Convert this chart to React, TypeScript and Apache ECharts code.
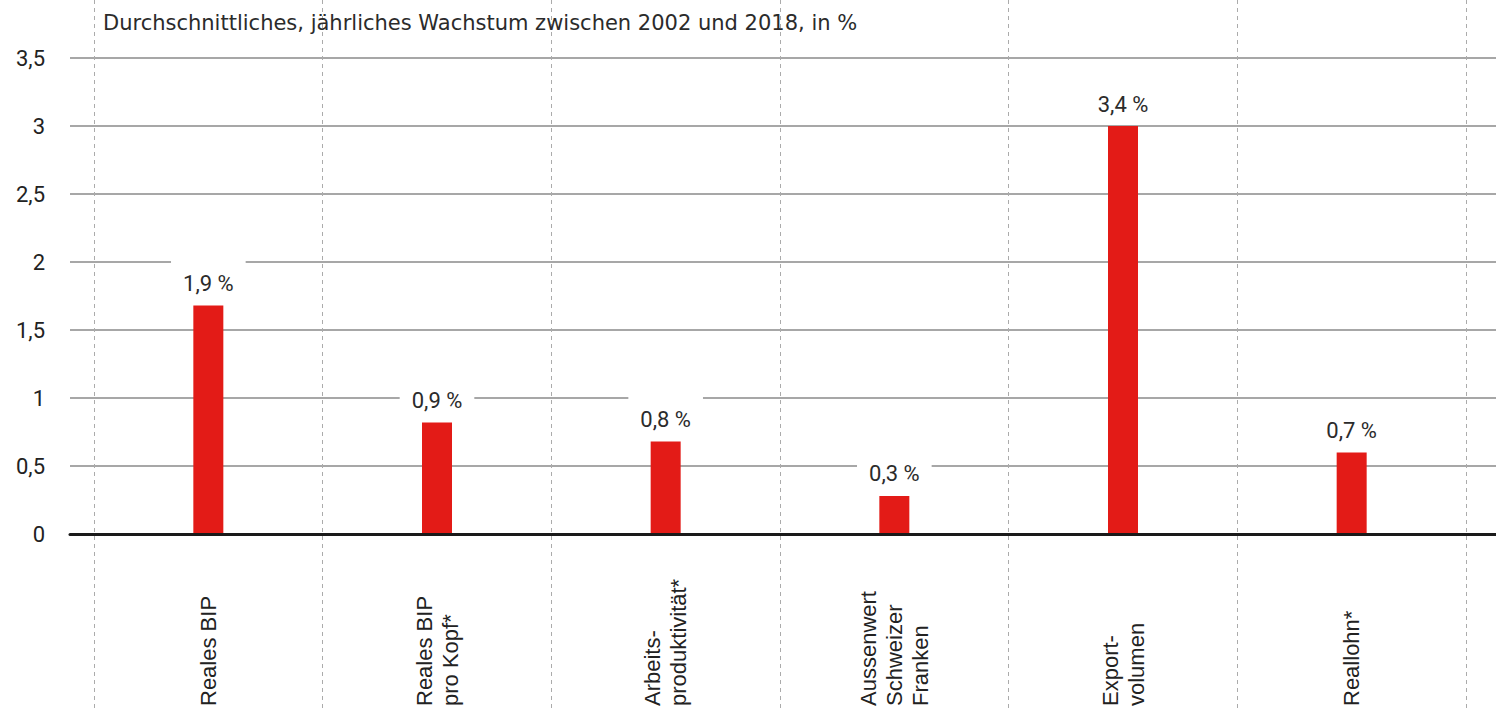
import React, { useEffect, useRef } from "react";
import * as echarts from "echarts";

const titleText = "Durchschnittliches, jährliches Wachstum zwischen 2002 und 2018, in %";
const categories = [
  "Reales BIP",
  "Reales BIP\npro Kopf*",
  "Arbeits-\nproduktivität*",
  "Aussenwert\nSchweizer\nFranken",
  "Export-\nvolumen",
  "Reallohn*",
];
const barValues = [1.68, 0.82, 0.68, 0.28, 3.0, 0.6];
const barLabels = ["1,9 %", "0,9 %", "0,8 %", "0,3 %", "3,4 %", "0,7 %"];
const yTickLabels = ["0", "0,5", "1", "1,5", "2", "2,5", "3", "3,5"];
const yMax = 3.5;
const yStep = 0.5;

const W = 1496;
const H = 711;
const plotTop = 58;
const plotBottom = 534;

export default function App() {
  const ref = useRef<HTMLDivElement>(null);
  useEffect(() => {
    if (!ref.current) return;
    const chart = echarts.init(ref.current, null, { renderer: "svg" });
    const pxPerUnit = (plotBottom - plotTop) / yMax;
    const bMin = -(H - plotBottom) / pxPerUnit;
    const bMax = plotBottom / pxPerUnit;
    const numFont = "Roboto";
    chart.setOption({
      animation: false,
      backgroundColor: "#ffffff",
      title: {
        text: titleText,
        left: 103,
        top: 12,
        padding: 0,
        textStyle: {
          fontFamily: "DejaVu Sans",
          fontSize: 21,
          fontWeight: "normal",
          color: "#2b2b2b",
        },
      },
      grid: [
        {
          left: 70,
          right: 0,
          top: plotTop,
          bottom: H - plotBottom,
          containLabel: false,
          outerBoundsMode: "none",
        },
        {
          left: 94,
          right: 30,
          top: 0,
          bottom: 0,
          containLabel: false,
          outerBoundsMode: "none",
        },
      ],
      xAxis: [
        {
          type: "category",
          gridIndex: 0,
          data: [""],
          axisTick: { show: false },
          axisLabel: { show: false },
          splitLine: { show: false },
          axisLine: { show: true, lineStyle: { color: "#1a1a1a", width: 3 } },
          z: 5,
        },
        {
          type: "category",
          gridIndex: 1,
          data: categories,
          axisTick: { show: false },
          axisLine: { show: false, onZero: false },
          splitLine: {
            show: true,
            lineStyle: { color: "#ababab", width: 1, type: [4, 4] },
          },
          axisLabel: {
            interval: 0,
            rotate: 90,
            align: "left",
            verticalAlign: "middle",
            margin: -5,
            fontFamily: "Liberation Sans",
            fontSize: 22,
            lineHeight: 26,
            color: "#222",
          },
        },
      ],
      yAxis: [
        {
          type: "value",
          gridIndex: 0,
          min: 0,
          max: yMax,
          interval: yStep,
          axisLine: { show: false },
          axisTick: { show: false },
          axisLabel: {
            margin: 25,
            fontFamily: numFont,
            fontSize: 22,
            color: "#222",
            formatter: (v: number) => yTickLabels[Math.round(v / yStep)] ?? "",
          },
          splitLine: { show: true, lineStyle: { color: "#8a8a8a", width: 1.5 } },
        },
        {
          type: "value",
          gridIndex: 1,
          min: bMin,
          max: bMax,
          show: false,
          splitLine: { show: false },
        },
      ],
      series: [
        {
          type: "bar",
          xAxisIndex: 1,
          yAxisIndex: 1,
          data: barValues,
          barWidth: 30,
          itemStyle: { color: "#e31b17" },
          label: {
            show: true,
            position: "top",
            distance: 7,
            formatter: (p: any) => barLabels[p.dataIndex],
            fontFamily: numFont,
            fontSize: 22,
            lineHeight: 22,
            color: "#2b2b2b",
            backgroundColor: "#ffffff",
            padding: [14, 12, 4, 12],
          },
          z: 3,
        },
      ],
    });
    return () => chart.dispose();
  }, []);
  return (
    <div
      ref={ref}
      style={{ position: "fixed", left: 0, top: 0, width: W, height: H, background: "#fff" }}
    />
  );
}
